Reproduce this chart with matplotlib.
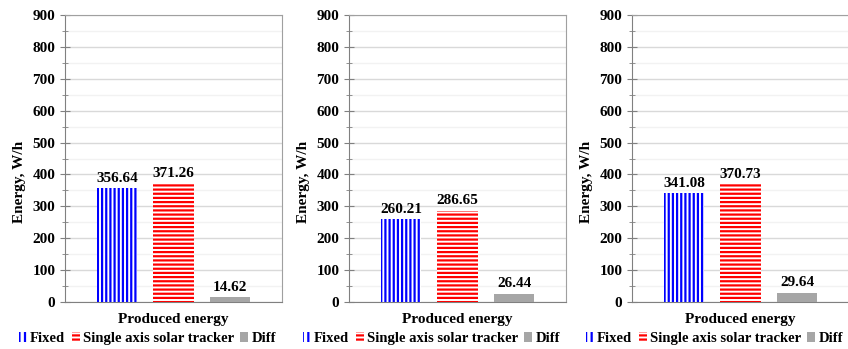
import matplotlib
matplotlib.use('Agg')
import matplotlib.pyplot as plt
from matplotlib.patches import Patch
from matplotlib.ticker import MultipleLocator

plt.rcParams['font.family'] = ['Liberation Serif', 'DejaVu Serif']
plt.rcParams['font.weight'] = 'bold'
plt.rcParams['hatch.linewidth'] = 1.6

series = ['Fixed', 'Single axis solar tracker', 'Diff']
fixed = [356.64, 260.21, 341.08]
tracker = [371.26, 286.65, 370.73]
diff = [14.62, 26.44, 29.64]

colors = ['#0000FF', '#FF0000', '#A6A6A6']
hatches = ['||||', '----', None]

fig = plt.figure(figsize=(8.48, 3.49), dpi=100)
lefts = [65, 349, 632]

for k in range(3):
    ax = fig.add_axes([lefts[k] / 848, 1 - 302 / 349, 217 / 848, 287 / 349])
    vals = [fixed[k], tracker[k], diff[k]]
    xs = [-0.56, 0, 0.565]
    for i in range(3):
        if hatches[i]:
            ax.bar(xs[i], vals[i], width=0.4, facecolor='white', edgecolor=colors[i],
                   linewidth=0, hatch=hatches[i], zorder=3)
        else:
            ax.bar(xs[i], vals[i], width=0.4, color=colors[i], linewidth=0, zorder=3)
        ax.text(xs[i], vals[i] + 10, f'{vals[i]:.2f}', ha='center', va='bottom',
                fontsize=11, fontweight='bold', zorder=4)
    ax.set_xlim(-1.08, 1.08)
    ax.set_ylim(0, 900)
    ax.yaxis.set_major_locator(MultipleLocator(100))
    ax.yaxis.set_minor_locator(MultipleLocator(50))
    ax.grid(axis='y', which='major', color='#D9D9D9', linewidth=1, zorder=0)
    ax.grid(axis='y', which='minor', color='#F2F2F2', linewidth=1, zorder=0)
    ax.set_xticks([])
    ax.tick_params(axis='y', which='both', direction='inout', color='#808080', labelsize=11)
    ax.tick_params(axis='y', which='major', length=7)
    ax.tick_params(axis='y', which='minor', length=5)
    for lbl in ax.get_yticklabels():
        lbl.set_fontweight('bold')
    for s in ax.spines.values():
        s.set_color('#A0A0A0')
    ax.spines['left'].set_color('#808080')
    ax.spines['bottom'].set_color('#808080')
    ax.set_ylabel('Energy, W/h', fontsize=11, fontweight='bold')
    ax.yaxis.set_label_coords(-0.18, 0.42)
    ax.set_xlabel('Produced energy', fontsize=11, fontweight='bold', labelpad=8)
    handles = [Patch(facecolor='white', edgecolor=colors[0], linewidth=0, hatch='|||'),
               Patch(facecolor='white', edgecolor=colors[1], linewidth=0, hatch='----'),
               Patch(facecolor=colors[2], linewidth=0)]
    ax.legend(handles, series, loc='upper center', bbox_to_anchor=(0.38, -0.085), ncol=3,
              frameon=False, handlelength=0.55, handleheight=0.6,
              handletextpad=0.2, columnspacing=0.45, borderaxespad=0,
              prop={'weight': 'bold', 'size': 10.5})

fig.savefig('out.png', dpi=100)
